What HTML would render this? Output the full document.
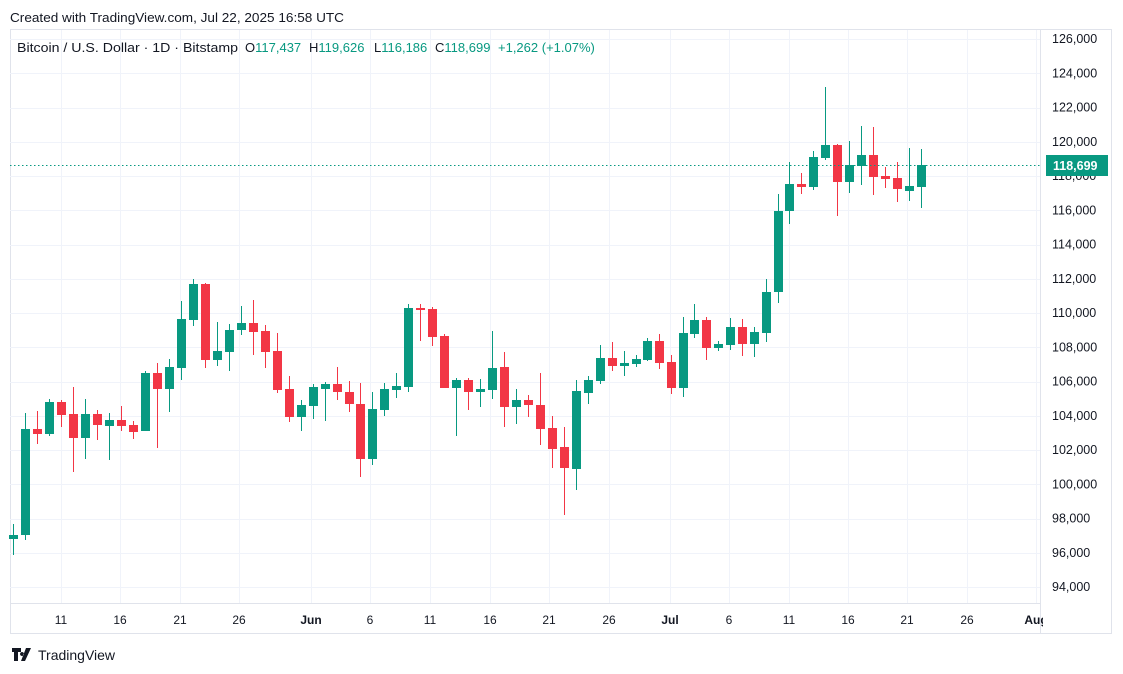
<!DOCTYPE html>
<html><head><meta charset="utf-8"><style>
html,body{margin:0;padding:0;background:#fff;width:1123px;height:674px;overflow:hidden}
svg{display:block;font-family:"Liberation Sans",sans-serif}
</style></head><body>
<svg id="s" width="1123" height="674" viewBox="0 0 1123 674" xmlns="http://www.w3.org/2000/svg">
<defs><clipPath id="cp"><rect x="10" y="600" width="1033" height="40"/></clipPath></defs>
<rect x="0" y="0" width="1123" height="674" fill="#fff"/>
<text x="10" y="22" font-size="13" fill="#131722" textLength="334" lengthAdjust="spacingAndGlyphs">Created with TradingView.com, Jul 22, 2025 16:58 UTC</text>
<rect x="10.5" y="29.5" width="1101" height="604" fill="none" stroke="#e0e3eb"/>
<line x1="1040.5" y1="30" x2="1040.5" y2="633" stroke="#e0e3eb"/>
<line x1="10" y1="603.5" x2="1040" y2="603.5" stroke="#e0e3eb"/>
<g id="grid" stroke="#f0f3fa" stroke-width="1"></g>
<g id="candles"></g>
<line x1="10" y1="165.5" x2="1040" y2="165.5" stroke="#089981" stroke-dasharray="1.5,2.5"/>
<g font-size="13" fill="#131722"><text x="17" y="52" textLength="221" lengthAdjust="spacingAndGlyphs">Bitcoin / U.S. Dollar · 1D · Bitstamp</text>
<text x="245" y="52">O<tspan fill="#089981">117,437</tspan></text>
<text x="309" y="52">H<tspan fill="#089981">119,626</tspan></text>
<text x="374" y="52">L<tspan fill="#089981">116,186</tspan></text>
<text x="435" y="52">C<tspan fill="#089981">118,699</tspan></text>
<text x="498" y="52" fill="#089981">+1,262 (+1.07%)</text></g>
<g id="yl" font-size="12.5" fill="#131722"></g>
<rect x="1046" y="155" width="62" height="21" fill="#089981"/>
<text x="1053" y="170" font-size="12.5" fill="#fff" font-weight="bold">118,699</text>
<g id="xl" font-size="12" fill="#131722" text-anchor="middle" clip-path="url(#cp)"></g>
<g transform="translate(12,648)" fill="#131722"><path d="M0 0h9v4h-3v9h-4v-9h-2z M10 4a2 2 0 1 0 0.01 0z M14 0h5l-6 13h-4z"/></g>
<text x="38" y="660" font-size="14" fill="#131722">TradingView</text>
</svg>
<script>
var NS="http://www.w3.org/2000/svg",g=document.getElementById("grid"),yl=document.getElementById("yl"),xl=document.getElementById("xl"),cg=document.getElementById("candles");
function el(p,t,a,txt){var e=document.createElementNS(NS,t);for(var k in a)e.setAttribute(k,a[k]);if(txt)e.textContent=txt;p.appendChild(e);return e;}
for(var k=0;k<=16;k++){var y=39+k*34.25,p=126000-k*2000;el(g,"line",{x1:10,x2:1040,y1:Math.round(y)+.5,y2:Math.round(y)+.5});
 el(yl,"text",{x:1052,y:y+4},(p/1000|0)+",000");}
var xs=[[61,"11"],[120,"16"],[180,"21"],[239,"26"],[311,"Jun"],[370,"6"],[430,"11"],[490,"16"],[549,"21"],[609,"26"],[670,"Jul"],[729,"6"],[789,"11"],[848,"16"],[907,"21"],[967,"26"],[1036,"Aug"]];
xs.forEach(function(a){el(g,"line",{x1:a[0]+.5,x2:a[0]+.5,y1:30,y2:603});var t=el(xl,"text",{x:a[0],y:624},a[1]);if(/[A-Z]/.test(a[1]))t.setAttribute("font-weight","bold");});
var D=[[13,535,539,524,555,1],[25,429,535,413,540,1],[37,429,434,411,444,0],[49,402,434,399,436,1],[61,402,415,400,427,0],[73,414,438,387,472,0],[85,414,438,399,459,1],[97,414,425,410,440,0],[109,420,426,413,460,1],[121,420,426,406,431,0],[133,425,432,421,439,0],[145,373,431,371,431,1],[157,373,389,363,448,0],[169,367,389,359,412,1],[181,319,368,301,380,1],[193,284,320,279,326,1],[205,284,360,283,368,0],[217,351,360,322,366,1],[229,330,352,324,371,1],[241,323,330,306,335,1],[253,323,332,300,355,0],[265,331,352,325,368,0],[277,351,390,333,393,0],[289,389,417,376,422,0],[301,405,417,400,431,1],[313,387,406,384,419,1],[325,384,389,382,421,1],[337,384,392,367,400,0],[349,392,404,381,412,0],[360,404,459,383,477,0],[372,409,459,392,465,1],[384,389,410,383,416,1],[396,386,390,373,398,1],[408,308,387,304,392,1],[420,308,309,304,341,0],[432,309,337,307,346,0],[444,336,388,334,388,0],[456,380,388,378,436,1],[468,380,392,378,410,0],[480,389,392,379,407,1],[492,368,390,331,399,1],[504,367,407,352,427,0],[516,400,407,389,424,1],[528,400,405,395,417,0],[540,405,429,373,445,0],[552,428,449,416,468,0],[564,447,468,427,515,0],[576,391,469,380,490,1],[588,380,393,376,404,1],[600,358,381,345,384,1],[612,358,366,342,371,0],[624,363,366,351,376,1],[636,359,364,355,367,1],[647,341,360,338,361,1],[659,341,363,334,369,0],[671,362,388,355,394,0],[683,333,388,317,397,1],[694,320,334,304,338,1],[706,320,348,317,360,0],[718,344,348,341,351,1],[730,327,345,318,350,1],[742,327,344,319,356,0],[754,332,344,327,357,1],[766,292,333,279,342,1],[778,211,292,194,303,1],[789,184,211,162,224,1],[801,184,187,173,194,0],[813,157,187,151,190,1],[825,145,158,87,160,1],[837,145,182,144,216,0],[849,165,182,141,193,1],[861,155,166,126,185,1],[873,155,177,127,195,0],[885,176,179,167,188,0],[897,178,189,162,202,0],[909,186,191,148,201,1],[921,165,187,149,208,1]];
D.forEach(function(c){var col=c[5]?"#089981":"#F23645";el(cg,"rect",{x:c[0],y:c[3],width:1,height:c[4]-c[3],fill:col});el(cg,"rect",{x:c[0]-4,y:c[1],width:9,height:Math.max(2,c[2]-c[1]),fill:col});});
</script>
</body></html>
